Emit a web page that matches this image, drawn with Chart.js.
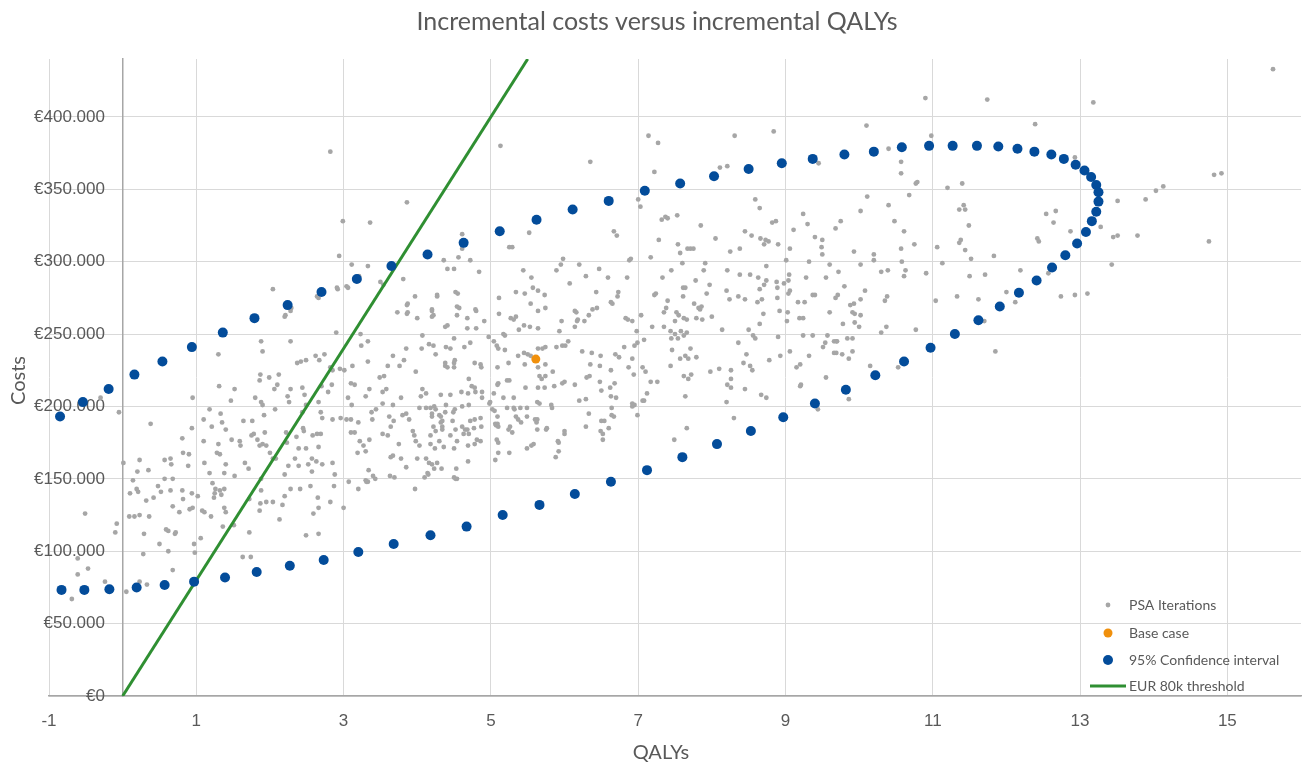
<!DOCTYPE html>
<html><head><meta charset="utf-8">
<script src="https://cdn.jsdelivr.net/npm/chart.js@4/dist/chart.umd.min.js"></script>
<style>html,body{margin:0;padding:0;background:#fff;overflow:hidden}canvas{display:block}</style>
</head><body>
<canvas id="c" width="1306" height="765"></canvas>
<script>
const chartTitle = 'Incremental costs versus incremental QALYs';
const xAxisTitle = 'QALYs';
const yAxisTitle = 'Costs';
const seriesNames = ['PSA Iterations', 'Base case', '95% Confidence interval', 'EUR 80k threshold'];

const xTickValues = [-1, 1, 3, 5, 7, 9, 11, 13, 15];
const yTickValues = [0, 50000, 100000, 150000, 200000, 250000, 300000, 350000, 400000];

// [QALYs, costs in EUR]
const psaIterations = [
[-0.30,206000],[-0.05,196000],[-0.51,126000],[-0.10,113000],[-0.08,119000],[-0.61,95000],[-0.61,84000],[-0.47,88000],[-0.69,67000],[-0.24,79000],[0.05,72000],[0.23,79000],[0.33,77000],
[0.01,161000],[0.23,163000],[0.14,149000],[0.20,155000],[0.10,140000],[0.19,143000],[0.21,141000],[0.09,124000],[0.16,124000],[0.23,125000],[0.36,124000],[0.29,112000],[0.28,98000],[0.32,135000],[0.35,156000],[0.42,137000],[0.38,188000],[0.50,105000],[0.48,145000],[0.52,141000],[0.57,150000],[0.57,163000],[0.65,164000],[0.66,160000],[0.65,142000],[0.68,131000],[0.68,150000],[0.62,114000],[0.59,115000],[0.71,112000],[0.72,113000],[0.62,100000],[0.68,87000],[0.77,127000],[0.81,142000],[0.82,136000],[0.81,178000],[0.82,168000],[0.90,167000],[0.89,159000],[0.94,185000],[0.95,206000],[0.94,140000],[0.95,130000],[0.91,129000],[0.97,105000],[0.98,99000],
[1.02,138000],[1.06,109000],[1.10,191000],[1.10,176000],[1.11,161000],[1.08,128000],[1.11,127000],[1.18,198000],[1.20,124000],[1.21,186000],[1.18,154000],[1.22,147000],[1.24,137000],[1.25,140000],[1.26,143000],[1.32,142000],[1.34,139000],[1.28,168000],[1.32,167000],[1.30,174000],[1.33,195000],[1.35,189000],[1.30,236000],[1.31,214000],[1.40,184000],[1.40,160000],[1.38,154000],[1.38,143000],[1.38,130000],[1.40,127000],[1.36,117000],[1.47,204000],[1.52,212000],[1.48,177000],[1.59,176000],[1.60,173000],[1.52,152000],[1.51,118000],[1.63,96000],[1.74,96000],[1.64,190000],[1.66,161000],[1.71,157000],[1.72,136000],[1.72,113000],[1.76,190000],[1.75,180000],[1.78,181000],[1.80,206000],[1.83,177000],[1.86,128000],[1.86,218000],[1.88,245000],[1.90,238000],[1.87,222000],[1.88,203000],[1.90,201000],[1.92,194000],[1.93,182000],[1.86,173000],[1.90,174000],[1.95,173000],[1.88,150000],[1.88,142000],[1.87,133000],[1.95,134000],
[2.00,168000],[2.04,134000],[2.04,164000],[2.08,164000],[1.99,220000],[2.12,222000],[2.06,212000],[2.10,215000],[2.07,198000],[2.04,281000],[2.20,262000],[2.28,266000],[2.28,245000],[2.24,207000],[2.26,203000],[2.28,212000],[2.22,182000],[2.23,175000],[2.36,179000],[2.34,164000],[2.25,159000],[2.20,153000],[2.20,138000],[2.13,122000],[2.17,132000],[2.28,143000],[2.39,171000],[2.39,159000],[2.41,143000],[2.37,230000],[2.42,231000],[2.49,232000],[2.44,213000],[2.47,208000],[2.44,196000],[2.49,201000],[2.45,185000],[2.46,183000],[2.49,171000],[2.49,111000],[2.52,160000],[2.57,155000],[2.55,145000],[2.58,180000],[2.57,164000],[2.59,126000],[2.62,235000],[2.67,232000],[2.70,214000],[2.74,236000],[2.66,203000],[2.69,196000],[2.71,192000],[2.64,181000],[2.69,181000],[2.66,172000],[2.63,162000],[2.71,160000],[2.65,137000],[2.66,130000],[2.66,112000],[2.82,134000],[2.85,161000],[2.87,145000],[2.88,153000],[2.82,227000],[2.85,225000],[2.79,210000],[2.84,215000],[2.85,191000],[2.90,251000],[2.95,226000],[2.96,192000],[2.66,275000],[2.92,281000],[2.82,376000],[2.99,328000],[2.94,304000],[2.91,282000],[2.64,276000],[2.29,268000],[2.21,263000],
[3.00,130000],[3.01,225000],[3.04,191000],[3.10,191000],[3.06,206000],[3.12,228000],[3.10,182000],[3.15,182000],[3.10,216000],[3.15,215000],[3.11,201000],[3.07,148000],[3.20,189000],[3.23,250000],[3.24,242000],[3.22,176000],[3.27,173000],[3.19,168000],[3.20,143000],[3.30,169000],[3.33,231000],[3.33,245000],[3.35,177000],[3.38,196000],[3.39,191000],[3.30,207000],[3.35,212000],[3.30,149000],[3.33,148000],[3.34,156000],[3.06,282000],[3.36,327000],[3.86,341000],[3.11,298000],[3.33,297000],[3.21,290000],[3.04,283000],[3.50,286000],[3.54,284000],[3.81,288000],[3.97,276000],[3.86,270000],[3.86,264000],[3.49,220000],[3.55,221000],[3.53,210000],[3.58,212000],[3.67,235000],[3.73,265000],[3.87,271000],[3.87,265000],[4.00,261000],[3.60,228000],[3.76,228000],[3.85,240000],[3.82,232000],[3.98,224000],[3.53,202000],[3.67,201000],[3.78,206000],[3.44,198000],[3.62,193000],[3.68,190000],[3.53,181000],[3.60,180000],[3.64,186000],[3.80,194000],[3.85,195000],[3.89,191000],[3.75,174000],[3.94,183000],[3.96,180000],[3.98,176000],[3.64,165000],[3.67,166000],[3.78,164000],[3.63,152000],[3.69,151000],[3.40,152000],[3.43,150000],[3.31,148000],[3.85,158000],[3.97,143000],[4.00,164000],
[4.07,249000],[4.20,267000],[4.22,263000],[4.27,277000],[4.38,255000],[4.41,256000],[4.50,247000],[4.54,269000],[4.06,240000],[4.16,243000],[4.22,242000],[4.25,236000],[4.39,241000],[4.45,240000],[4.38,228000],[4.41,227000],[4.51,232000],[4.03,199000],[4.05,207000],[4.07,212000],[4.12,209000],[4.12,199000],[4.18,199000],[4.20,195000],[4.30,194000],[4.32,189000],[4.34,184000],[4.25,183000],[4.18,180000],[4.18,174000],[4.30,176000],[4.36,172000],[4.03,173000],[4.12,164000],[4.16,161000],[4.20,160000],[4.27,161000],[4.33,157000],[4.10,151000],[4.14,154000],[4.15,153000],[4.54,150000],
[4.61,319000],[4.61,309000],[4.36,301000],[4.56,303000],[4.72,301000],[4.41,295000],[4.50,295000],[4.84,293000],[4.27,276000],[4.20,266000],[4.20,262000],[4.55,278000],[4.57,268000],[4.80,266000],[4.68,261000],
[4.52,279000],[4.54,263000],[4.79,267000],[4.91,259000],[4.80,254000],[4.68,254000],[4.64,241000],[4.72,244000],[4.38,230000],[4.50,230000],[4.50,227000],[4.78,230000],[4.86,229000],[4.87,227000],[4.70,219000],[4.74,214000],[4.78,213000],[4.79,210000],[4.88,210000],[4.88,206000],[4.45,208000],[4.39,201000],[4.49,196000],[4.61,200000],[4.70,201000],[4.72,190000],[4.86,192000],[4.87,186000],[4.77,185000],[4.70,181000],[4.61,186000],[4.63,181000],[4.34,190000],[4.32,193000],[4.34,186000],[4.45,180000],[4.78,174000],[4.86,176000],
[4.32,208000],[4.23,200000],[4.25,198000],[4.20,193000],[4.22,186000],[4.38,196000],[4.24,171000],[4.48,190000],[4.51,198000],[4.60,210000],[4.69,209000],[4.78,191000],[4.52,184000],[4.65,184000],[4.68,184000],[4.54,176000],[4.50,171000],[4.69,173000],[4.81,177000],[4.69,162000],[4.53,157000],[4.50,151000],[4.52,150000],[4.23,157000],[4.98,202000],
[5.13,380000],[5.52,320000],[5.25,310000],[5.29,310000],[5.11,275000],[5.11,264000],[5.44,294000],[5.55,289000],[5.57,282000],[5.64,280000],[5.73,277000],[5.34,279000],[5.46,278000],[5.54,271000],[5.64,266000],[5.74,268000],[5.27,261000],[5.31,260000],[5.34,262000],[5.38,253000],[5.45,256000],[5.53,255000],[5.64,254000],[5.17,250000],[5.19,249000],[4.97,248000],[5.04,245000],[5.08,242000],[5.10,240000],[5.19,239000],[5.37,235000],[5.45,237000],[5.50,236000],[5.54,235000],[5.64,240000],[5.70,240000],[5.74,241000],[5.09,227000],[5.24,230000],[5.10,216000],[5.09,215000],[5.22,218000],[5.25,218000],[5.46,229000],[5.64,227000],[5.74,229000],[5.84,224000],[5.66,221000],[5.69,219000],[5.74,221000],[5.47,213000],[5.64,213000],[5.73,213000],[5.86,214000],[5.17,206000],[5.31,206000],[4.99,203000],[5.02,198000],[5.09,193000],[5.22,199000],[5.31,199000],[5.40,199000],[5.49,199000],[5.63,203000],[5.82,201000],[5.34,193000],[5.37,191000],[5.49,193000],[5.63,191000],[5.62,189000],[5.06,188000],[5.09,188000],[5.26,186000],[5.76,185000],[5.63,184000],[6.00,183000],[5.08,177000],[5.58,174000],[5.91,176000],
[5.04,209000],[5.05,197000],[5.07,187000],[5.10,186000],[5.10,175000],[5.10,168000],[5.06,163000],[5.24,184000],[5.29,182000],[5.25,168000],[5.32,198000],[5.41,189000],[5.49,171000],[5.55,173000],[5.60,191000],[5.66,202000],[5.75,184000],[5.83,199000],[5.92,175000],[5.92,169000],[5.88,165000],[6.00,181000],
[5.89,294000],[5.95,298000],[5.98,302000],[6.07,285000],[6.14,266000],[6.16,265000],[6.18,260000],[6.27,259000],[6.20,298000],[6.29,290000],[6.43,279000],[6.38,267000],[6.44,268000],[6.33,263000],[6.47,295000],[6.59,289000],[6.63,272000],[6.65,271000],[6.73,279000],[6.72,276000],[6.67,321000],[6.71,318000],[6.85,289000],[6.88,301000],[6.90,302000],[6.83,261000],[6.86,260000],[6.92,259000],[7.04,263000],[7.03,338000],[7.00,343000],[6.98,252000],[7.08,246000],[6.14,255000],[6.17,259000],[5.96,259000],[5.93,252000],[6.05,245000],[5.89,241000],[5.97,242000],[6.01,242000],[6.24,238000],[6.37,237000],[6.49,235000],[6.69,236000],[6.74,234000],[6.81,241000],[6.95,242000],[6.99,244000],[6.92,233000],[6.35,229000],[6.48,228000],[6.63,225000],[6.87,227000],[6.94,222000],[6.30,220000],[6.34,221000],[6.14,215000],[6.00,217000],[5.97,216000],[6.48,217000],[6.62,213000],[6.68,216000],[6.50,211000],[6.63,207000],[6.29,205000],[6.20,204000],[6.70,206000],[6.92,202000],[6.95,201000],[7.06,204000],[6.64,199000],[6.64,194000],[6.33,195000],[6.50,190000],[6.29,186000],[6.60,185000],[6.99,194000],[6.49,183000],[6.52,181000],[6.35,369000],[6.54,190000],[6.67,193000],[6.92,200000],[6.52,177000],
[7.14,387000],[7.27,382000],[7.22,362000],[7.17,303000],[7.28,315000],[7.32,329000],[7.37,331000],[7.40,330000],[7.53,332000],[7.85,325000],[7.54,312000],[7.57,306000],[7.67,309000],[7.71,309000],[7.75,309000],[7.60,299000],[7.91,299000],[8.05,316000],[7.45,294000],[7.33,289000],[7.78,287000],[7.89,294000],[7.24,278000],[7.22,277000],[7.40,273000],[7.38,268000],[7.35,265000],[7.61,282000],[7.64,282000],[7.61,276000],[7.76,271000],[7.82,268000],[7.84,267000],[7.86,269000],[7.97,284000],[7.93,278000],[7.52,265000],[7.55,263000],[7.62,261000],[7.66,260000],[7.79,261000],[7.87,260000],[8.00,262000],[7.50,259000],[7.19,255000],[7.35,255000],[7.44,252000],[7.50,250000],[7.58,252000],[7.62,249000],[7.66,251000],[7.54,247000],[7.45,247000],[7.46,239000],[7.57,233000],[7.64,235000],[7.68,233000],[7.71,240000],[7.44,228000],[7.79,234000],[7.62,221000],[7.68,219000],[7.72,222000],[7.06,227000],[7.10,224000],[7.17,217000],[7.26,217000],[7.08,204000],[7.64,207000],[7.98,224000],[8.10,226000],[7.66,185000],[7.49,177000],[7.12,209000],
[8.31,387000],[8.84,390000],[8.11,365000],[8.21,366000],[8.54,318000],[8.59,343000],[8.65,337000],[8.45,321000],[8.66,316000],[8.73,315000],[8.77,314000],[8.82,327000],[8.87,328000],[8.71,312000],[8.90,312000],[8.25,307000],[8.38,309000],[8.21,294000],[8.20,280000],[8.24,274000],[8.36,276000],[8.45,274000],[8.38,291000],[8.52,291000],[8.63,289000],[8.74,297000],[8.71,284000],[8.74,287000],[8.65,281000],[8.68,274000],[8.62,272000],[8.50,253000],[8.65,257000],[8.70,264000],[8.56,249000],[8.59,247000],[8.36,244000],[8.47,236000],[8.43,230000],[8.52,228000],[8.55,225000],[8.14,253000],[8.26,225000],[8.26,219000],[8.21,215000],[8.26,213000],[8.45,212000],[8.67,208000],[8.74,206000],[8.20,203000],[8.30,192000],[8.88,286000],[8.89,282000],[8.89,275000],[8.92,266000],[8.90,248000],[8.93,235000],[8.78,232000],
[9.45,368000],[9.24,333000],[9.30,326000],[9.11,322000],[9.40,317000],[9.50,315000],[9.49,310000],[9.50,305000],[9.75,328000],[9.68,323000],[9.06,309000],[9.01,301000],[9.32,300000],[9.60,298000],[9.72,293000],[9.93,307000],[9.05,291000],[9.04,287000],[8.98,285000],[9.28,289000],[9.55,289000],[9.80,283000],[9.06,280000],[9.04,278000],[9.17,272000],[9.26,272000],[9.37,277000],[9.40,277000],[9.19,261000],[9.24,261000],[9.60,265000],[9.68,275000],[9.78,257000],[9.91,265000],[9.93,271000],[9.03,265000],[9.02,259000],[9.24,249000],[9.37,249000],[9.06,238000],[9.57,249000],[9.54,244000],[9.51,241000],[9.66,237000],[9.66,245000],[9.70,245000],[9.77,236000],[9.15,227000],[9.20,229000],[9.32,235000],[9.91,247000],[9.91,238000],[9.21,215000],[9.55,220000],[9.20,214000],[9.44,198000],[9.86,205000],
[10.02,298000],[9.71,277000],[9.88,270000],[9.94,264000],[10.02,263000],[9.94,258000],[10.00,255000],[9.69,245000],[9.84,247000],[9.69,237000],[9.86,233000],
[10.90,413000],[10.10,394000],[10.98,387000],[10.40,378000],[10.57,369000],[10.57,361000],[10.77,354000],[10.79,355000],[10.68,346000],[10.11,345000],[10.40,339000],[10.02,335000],[10.48,328000],[10.61,321000],[10.75,312000],[10.57,309000],[10.20,305000],[10.20,301000],[10.58,300000],[10.30,293000],[10.39,294000],[10.63,294000],[10.61,290000],[10.91,292000],[10.08,280000],[10.02,274000],[10.38,276000],[10.35,273000],[10.37,255000],[10.30,251000],[10.77,253000],[10.15,228000],[10.53,227000],
[11.74,412000],[12.39,395000],[11.20,351000],[11.40,354000],[12.93,372000],[11.42,339000],[11.36,336000],[11.44,336000],[11.49,325000],[11.06,310000],[11.38,315000],[11.36,313000],[11.44,308000],[11.52,302000],[11.13,299000],[11.83,304000],[11.04,273000],[11.33,276000],[11.62,274000],[11.50,290000],[11.71,291000],[12.19,294000],[12.00,279000],[12.12,272000],[12.54,333000],[12.67,335000],[12.64,327000],[12.87,321000],[12.42,316000],[12.44,314000],[12.57,292000],[12.74,276000],[12.93,277000],[13.10,278000],[11.70,259000],[11.85,238000],
[13.18,410000],[15.62,433000],[13.28,324000],[13.51,342000],[13.89,343000],[14.03,349000],[14.13,352000],[13.45,317000],[13.51,318000],[13.78,318000],[14.75,314000],[14.82,360000],[14.92,361000],[13.43,298000]
];

const baseCase = [[5.61,232700]];

const confidenceInterval = [
[-0.85,193000],[-0.54,203000],[-0.19,212000],[0.16,222000],[0.54,231000],[0.94,241000],[1.36,251000],[1.79,261000],[2.24,270000],[2.70,279000],[3.18,288000],[3.65,297000],[4.14,305000],[4.63,313000],[5.12,321000],[5.62,329000],[6.11,336000],[6.60,342000],[7.09,349000],[7.57,354000],[8.03,359000],[8.50,364000],[8.95,368000],[9.37,371000],[9.80,374000],[10.20,376000],[10.58,379000],[10.95,380000],[11.27,380000],[11.60,380000],[11.89,379500],[12.15,378000],[12.38,376000],[12.61,374000],[12.78,371000],[12.94,367000],[13.06,363000],[13.15,358500],[13.22,353000],[13.25,348000],[13.25,341500],[13.22,334500],[13.16,328000],[13.08,320500],[12.96,312500],[12.80,304500],[12.62,296000],[12.41,287000],[12.17,278500],[11.91,269000],[11.62,259500],[11.30,250000],[10.97,240500],[10.61,231000],[10.22,221500],[9.82,211500],[9.40,202000],[8.97,192500],[8.53,183000],[8.07,174000],[7.60,165000],[7.12,156000],[6.63,148000],[6.14,139500],[5.66,132000],[5.16,125000],[4.67,117000],[4.18,111000],[3.68,105000],[3.20,99500],[2.73,94000],[2.27,90000],[1.82,85700],[1.39,81800],[0.97,79000],[0.57,76700],[0.19,75000],[-0.18,73700],[-0.52,73300],[-0.83,73300]
];

// EUR 80k per QALY threshold line end points
const thresholdLine = [[0,0],[5.5,440000]];

const xRange = {min: -1, max: 16};
const yRange = {min: 0, max: 440000};

const COLORS = {psa:'#a6a6a6', base:'#f0900c', ci:'#034c9a', thr:'#2f8f32', text:'#595959', grid:'#d9d9d9', axis:'#a6a6a6'};
const FONT = 'Lato, "Open Sans", "Liberation Sans", sans-serif';
const TICK_FONT = '"Liberation Sans", Arial, sans-serif';

const toXY = arr => arr.map(p => ({x: p[0], y: p[1]}));
const euro = v => '€' + String(Math.round(v)).replace(/\B(?=(\d{3})+(?!\d))/g, '.');
const zeroPad = s => { s.paddingLeft = 0; s.paddingRight = 0; s.paddingTop = 0; s.paddingBottom = 0; };
const fixedTicks = vals => s => { s.ticks = vals.map(v => ({value: v})); };

const decorPlugin = {
  id: 'decor',
  afterDraw(chart){
    const ctx = chart.ctx, ca = chart.chartArea;
    ctx.save();
    ctx.fillStyle = COLORS.text;
    ctx.textBaseline = 'middle';
    ctx.textAlign = 'center';
    ctx.font = '25px ' + FONT;
    ctx.fillText(chartTitle, (ca.left + ca.right)/2 - 18, ca.top - 37);
    ctx.font = '20px ' + FONT;
    ctx.fillText(xAxisTitle, (ca.left + ca.right)/2 - 14, ca.bottom + 57);
    ctx.save();
    ctx.translate(ca.left - 30, (ca.top + ca.bottom)/2 + 3);
    ctx.rotate(-Math.PI/2);
    ctx.fillText(yAxisTitle, 0, 0);
    ctx.restore();
    const ds = chart.data.datasets;
    const rows = [-91,-63,-36,-10];
    const mx = ca.right - 193, tx = ca.right - 172;
    ctx.font = '14px ' + FONT;
    ctx.textAlign = 'left';
    ds.forEach((d, k) => {
      const y = ca.bottom + rows[k];
      if (d.type === 'line') {
        ctx.strokeStyle = d.borderColor; ctx.lineWidth = 3;
        ctx.beginPath(); ctx.moveTo(mx - 18, y); ctx.lineTo(mx + 18, y); ctx.stroke();
      } else {
        ctx.fillStyle = d.backgroundColor;
        ctx.beginPath(); ctx.arc(mx, y, d.pointRadius, 0, Math.PI*2); ctx.fill();
      }
      ctx.fillStyle = COLORS.text;
      ctx.fillText(d.label, tx, y);
    });
    ctx.restore();
  }
};

new Chart(document.getElementById('c'), {
  type: 'scatter',
  data: {
    datasets: [
      {label: seriesNames[0], data: toXY(psaIterations), backgroundColor: COLORS.psa, borderColor: COLORS.psa, pointRadius: 2.4, pointBorderWidth: 0, order: 4},
      {label: seriesNames[1], data: toXY(baseCase), backgroundColor: COLORS.base, borderColor: COLORS.base, pointRadius: 4.5, pointBorderWidth: 0, order: 2},
      {label: seriesNames[2], data: toXY(confidenceInterval), backgroundColor: COLORS.ci, borderColor: COLORS.ci, pointRadius: 5, pointBorderWidth: 0, order: 1},
      {label: seriesNames[3], type: 'line', data: toXY(thresholdLine), borderColor: COLORS.thr, backgroundColor: COLORS.thr, borderWidth: 3, pointRadius: 0, showLine: true, fill: false, order: 3}
    ]
  },
  options: {
    responsive: false,
    animation: false,
    devicePixelRatio: 1,
    layout: {padding: {left: 49, right: 1, top: 59, bottom: 69}},
    plugins: {legend: {display: false}, title: {display: false}, tooltip: {enabled: false}},
    scales: {
      x: {
        type: 'linear', position: {y: 0}, min: xRange.min, max: xRange.max,
        afterFit: zeroPad, afterBuildTicks: fixedTicks(xTickValues),
        grid: {color: COLORS.grid, lineWidth: 1, drawTicks: false},
        border: {color: COLORS.axis, width: 1.5},
        ticks: {padding: 15, color: COLORS.text, font: {family: TICK_FONT, size: 17}}
      },
      // value axis: labels placed a little left of the QALY = 0 line
      y: {
        type: 'linear', position: {x: -0.24}, min: yRange.min, max: yRange.max,
        afterFit: zeroPad, afterBuildTicks: fixedTicks(yTickValues),
        grid: {color: COLORS.grid, lineWidth: 1, drawTicks: false},
        border: {display: false},
        ticks: {color: COLORS.text, font: {family: TICK_FONT, size: 17}, callback: v => euro(v)}
      },
      // axis line at QALY = 0
      yLine: {
        type: 'linear', axis: 'y', position: {x: 0}, min: yRange.min, max: yRange.max,
        afterFit: zeroPad,
        grid: {display: false, drawTicks: false},
        border: {color: COLORS.axis, width: 1.5},
        ticks: {display: false}
      }
    }
  },
  plugins: [decorPlugin]
});
</script>
</body></html>
